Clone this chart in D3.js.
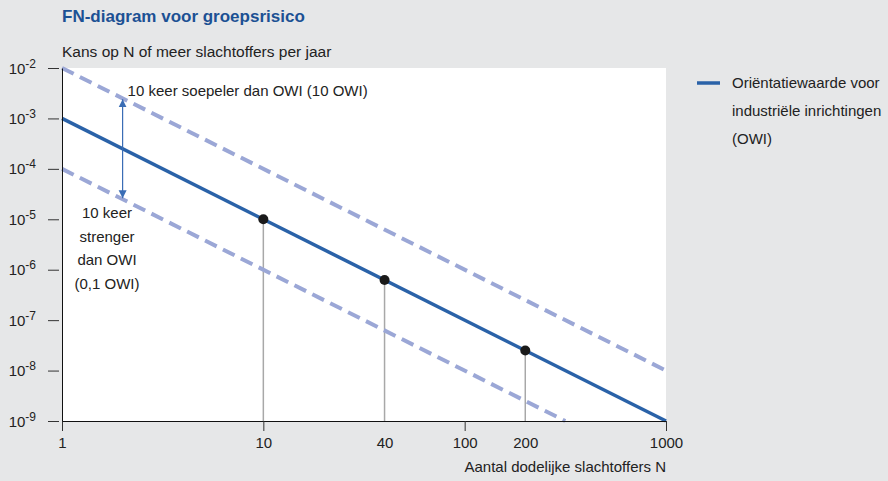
<!DOCTYPE html>
<html>
<head>
<meta charset="utf-8">
<script src="https://cdn.jsdelivr.net/npm/d3@7"></script>
<style>
  body { margin: 0; background: #e6e7e8; }
  svg { display: block; font-family: "Liberation Sans", Arial, sans-serif; }
</style>
</head>
<body>
<svg id="chart"></svg>
<script>
// data
const xTickValues = [1, 10, 40, 100, 200, 1000]
const xMajorTicks = [1, 10, 100, 1000]
const yExponents = [-2, -3, -4, -5, -6, -7, -8, -9]
const owiLine = [[1, 1e-3], [1000, 1e-9]]
const looseLine = [[1, 1e-2], [1000, 1e-8]]
const strictLine = [[1, 1e-4], [316, 1e-9]]
const owiPoints = [[10, 1e-5], [40, 6.25e-7], [200, 2.5e-8]]
const arrowN = 2
const arrowSpan = [2.5e-3, 2.5e-4, 2.5e-5]
const legendLines = ["Oriëntatiewaarde voor", "industriële inrichtingen", "(OWI)"]
const strictLines = ["10 keer", "strenger", "dan OWI", "(0,1 OWI)"]

const width = 888, height = 481
const margin = { top: 68, left: 62, right: 222, bottom: 60 }
const innerW = width - margin.left - margin.right
const innerH = height - margin.top - margin.bottom

const blue = "#2a62a8"
const dashBlue = "#9ba7d6"
const fontSize = "15px"

const svg = d3.select("#chart").attr("width", width).attr("height", height)

svg.append("rect").attr("width", width).attr("height", height).attr("fill", "#e6e7e8")

svg.append("text")
  .attr("x", 62).attr("y", 22)
  .attr("fill", "#1c5194")
  .style("font-size", "17px").style("font-weight", "bold")
  .text("FN-diagram voor groepsrisico")

svg.append("text")
  .attr("x", 62).attr("y", 57)
  .attr("fill", "#222")
  .style("font-size", "15.5px")
  .text("Kans op N of meer slachtoffers per jaar")

const g = svg.append("g").attr("transform", "translate(" + margin.left + "," + margin.top + ")")

const x = d3.scaleLog().domain([1, 1000]).range([0, innerW])
const y = d3.scaleLog().domain([1e-9, 1e-2]).range([innerH, 0])

g.append("rect").attr("width", innerW).attr("height", innerH).attr("fill", "#fff")

// vertical drop lines for the points
g.selectAll(".drop")
  .data(owiPoints)
  .enter()
  .append("line")
  .attr("x1", d => x(d[0])).attr("x2", d => x(d[0]))
  .attr("y1", d => y(d[1])).attr("y2", innerH)
  .attr("stroke", "#a8a8a8").attr("stroke-width", 1.5)

const line = d3.line().x(d => x(d[0])).y(d => y(d[1]))

g.append("path").datum(looseLine).attr("d", line)
  .attr("fill", "none").attr("stroke", dashBlue).attr("stroke-width", 4)
  .attr("stroke-dasharray", "13,7")
g.append("path").datum(strictLine).attr("d", line)
  .attr("fill", "none").attr("stroke", dashBlue).attr("stroke-width", 4)
  .attr("stroke-dasharray", "13,7")
g.append("path").datum(owiLine).attr("d", line)
  .attr("fill", "none").attr("stroke", blue).attr("stroke-width", 3.5)

g.selectAll(".pt")
  .data(owiPoints)
  .enter()
  .append("circle")
  .attr("cx", d => x(d[0])).attr("cy", d => y(d[1]))
  .attr("r", 5).attr("fill", "#1a1a1a")

// double arrow
const defs = svg.append("defs")
defs.append("marker")
  .attr("id", "head")
  .attr("viewBox", "0 0 10 10")
  .attr("refX", 10).attr("refY", 5)
  .attr("markerWidth", 8).attr("markerHeight", 11)
  .attr("markerUnits", "userSpaceOnUse")
  .attr("orient", "auto")
  .append("path").attr("d", "M0,0 L10,5 L0,10 Z").attr("fill", "#3a6db5")

const ax = x(arrowN)
g.append("line")
  .attr("x1", ax).attr("x2", ax)
  .attr("y1", y(arrowSpan[1])).attr("y2", y(arrowSpan[0]) + 1)
  .attr("stroke", "#3a6db5").attr("stroke-width", 1.2)
  .attr("marker-end", "url(#head)")
g.append("line")
  .attr("x1", ax).attr("x2", ax)
  .attr("y1", y(arrowSpan[1])).attr("y2", y(arrowSpan[2]) - 1)
  .attr("stroke", "#3a6db5").attr("stroke-width", 1.2)
  .attr("marker-end", "url(#head)")

g.append("text")
  .attr("x", ax + 5).attr("y", y(arrowSpan[0]) - 2)
  .attr("fill", "#222").style("font-size", fontSize)
  .text("10 keer soepeler dan OWI (10 OWI)")

g.append("text")
  .attr("x", 45).attr("y", 150)
  .attr("text-anchor", "middle")
  .attr("fill", "#222").style("font-size", fontSize)
  .selectAll("tspan")
  .data(strictLines)
  .enter()
  .append("tspan")
  .attr("x", 45)
  .attr("dy", (d, i) => i === 0 ? 0 : 23.5)
  .text(d => d)

// axes
const xAxis = g.append("g")
  .attr("transform", "translate(0," + innerH + ")")
  .call(d3.axisBottom(x).tickValues(xTickValues).tickSize(10).tickFormat(d3.format("d")))
xAxis.select(".domain").attr("stroke", "#111")
xAxis.selectAll(".tick line")
  .attr("stroke", "#333")
  .attr("y2", d => xMajorTicks.includes(d) ? 10 : 0)
xAxis.selectAll(".tick text")
  .attr("y", 16)
  .attr("fill", "#222")
  .style("font-size", fontSize)
  .style("font-family", "Liberation Sans, Arial, sans-serif")

const yAxis = g.append("g")
  .call(d3.axisLeft(y).tickValues(yExponents.map(e => Math.pow(10, e))).tickSize(0).tickFormat(""))
yAxis.select(".domain").attr("stroke", "#111")
yAxis.selectAll(".tick line").remove()
yAxis.selectAll(".tick").append("line")
  .attr("x1", -14).attr("x2", -3)
  .attr("stroke", "#333")

yAxis.selectAll(".tick").each(function (d) {
  const t = d3.select(this).append("text")
    .attr("x", -26).attr("y", 5)
    .attr("text-anchor", "end")
    .attr("fill", "#222")
    .style("font-size", fontSize)
    .style("font-family", "Liberation Sans, Arial, sans-serif")
  t.append("tspan").text("10")
  t.append("tspan").attr("dy", -6).style("font-size", "12px").text(Math.round(Math.log10(d)))
})

svg.append("text")
  .attr("x", margin.left + innerW).attr("y", 472)
  .attr("text-anchor", "end")
  .attr("fill", "#222").style("font-size", fontSize)
  .text("Aantal dodelijke slachtoffers N")

// legend
const legend = svg.append("g").attr("transform", "translate(697,83)")
legend.append("line").attr("x1", 0).attr("x2", 23).attr("y1", 0).attr("y2", 0)
  .attr("stroke", blue).attr("stroke-width", 3.5)
legend.selectAll("text")
  .data(legendLines)
  .enter()
  .append("text")
  .attr("x", 35).attr("y", (d, i) => 5 + i * 28)
  .attr("fill", "#222").style("font-size", fontSize)
  .text(d => d)
</script>
</body>
</html>
